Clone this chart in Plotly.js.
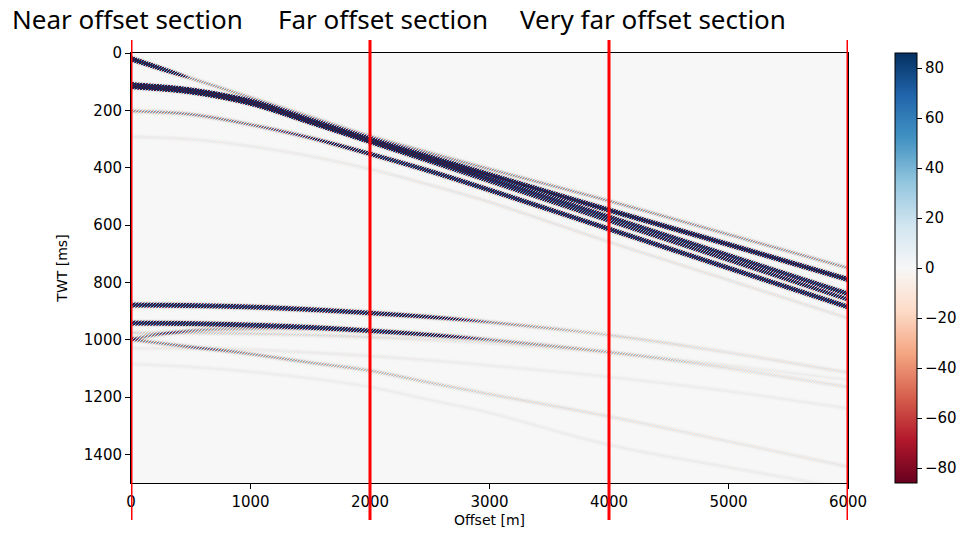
<!DOCTYPE html>
<html>
<head>
<meta charset="utf-8">
<script src="https://cdn.plot.ly/plotly-3.0.1.min.js"></script>
<style>
  html, body { margin: 0; padding: 0; background: #ffffff; }
  #chart { width: 966px; height: 535px; }
</style>
</head>
<body>
<div id="chart"></div>
<script>
// Offsets (m) where each event's two-way time and amplitude are picked
const pickOffsets = [0, 500, 1000, 1500, 2000, 2500, 3000, 4000, 5000, 6000];

// Two-way times (ms) of each event at pickOffsets
const tDirect   = [20, 88, 155, 222, 290, 348, 405, 516, 633, 750];
const tRefl1a   = [112, 131, 170, 236, 303, 364, 425, 548, 668, 790];
const tRefl1b   = [114, 133, 173, 239, 306, 372, 438, 572, 706, 840];
const tRefl1c   = [116, 135, 176, 242, 310, 378, 447, 585, 722, 860];
const tRefl2    = [202, 214, 250, 296, 352, 412, 478, 614, 750, 886];
const tRefl3    = [292, 301, 325, 360, 405, 460, 520, 659, 792, 925];
const tDeep1    = [879, 881, 886, 895, 907, 921, 939, 984, 1045, 1115];
const tDeep2    = [942, 944, 949, 957, 969, 983, 1000, 1043, 1100, 1165];
const tDeep3    = [976, 977, 979, 984, 991, 1000, 1012, 1045, 1090, 1140];
const tRising   = [997, 968, 963, 966, 975, 985, 1000, 1043, 1100, 1165];
const tDeep4    = [1030, 1031, 1035, 1045, 1057, 1072, 1090, 1130, 1180, 1240];
const tConv1    = [1000, 1025, 1050, 1080, 1108, 1150, 1190, 1268, 1355, 1443];
const tConv2    = [1085, 1095, 1112, 1135, 1165, 1210, 1255, 1367, 1445, 1520];

// Peak amplitudes of each event at pickOffsets
const aDirect   = [420, 45, 40, 40, 45, 45, 45, 45, 45, 45];
const aRefl1a   = [420, 420, 400, 380, 360, 340, 320, 300, 300, 300];
const aRefl1b   = [300, 300, 280, 260, 250, 240, 230, 220, 220, 220];
const aRefl1c   = [160, 160, 150, 150, 150, 150, 150, 150, 150, 150];
const aRefl2    = [45, 50, 55, 80, 170, 230, 250, 260, 260, 260];
const aRefl3    = [12, 12, 12, 12, 14, 16, 18, 18, 18, 18];
const aDeep1    = [230, 230, 220, 200, 180, 120, 50, 28, 18, 18];
const aDeep2    = [230, 230, 220, 200, 180, 120, 50, 25, 18, 18];
const aDeep3    = [25, 25, 25, 22, 22, 18, 14, 12, 10, 10];
const aRising   = [50, 45, 35, 12, 0, 0, 0, 0, 0, 0];
const aDeep4    = [12, 12, 12, 12, 12, 11, 10, 10, 10, 10];
const aConv1    = [50, 50, 45, 40, 35, 30, 24, 18, 15, 15];
const aConv2    = [10, 10, 10, 10, 10, 10, 10, 11, 11, 11];

// Section boundaries (m) and their labels
const sectionBounds = [0, 2000, 4000, 6000];
const sectionLabels = ['Near offset section', 'Far offset section', 'Very far offset section'];

// Axis ticks
const offsetTicks = [0, 1000, 2000, 3000, 4000, 5000, 6000];
const timeTicks = [0, 200, 400, 600, 800, 1000, 1200, 1400];
const ampTicks = [-80, -60, -40, -20, 0, 20, 40, 60, 80];

const events = [
  [tDirect, aDirect], [tRefl1a, aRefl1a], [tRefl1b, aRefl1b], [tRefl1c, aRefl1c],
  [tRefl2, aRefl2], [tRefl3, aRefl3], [tDeep1, aDeep1], [tDeep2, aDeep2],
  [tDeep3, aDeep3], [tRising, aRising], [tDeep4, aDeep4], [tConv1, aConv1], [tConv2, aConv2]
];

// Gather grid: one cell per screen pixel of the plot area (717 x 430)
const nTraces = 717, nSamples = 430;
const maxOffset = 6000, maxTime = 1500;
const dx = maxOffset / nTraces, dt = maxTime / nSamples;
const xEdges = [], tEdges = [];
for (let i = 0; i <= nTraces; i++) xEdges.push(i * dx);
for (let j = 0; j <= nSamples; j++) tEdges.push(j * dt);

// Smooth (cubic Hermite) travel-time curve through the picks
function timeAt(pk, vals, x) {
  let k = 0;
  while (k < pk.length - 2 && x > pk[k + 1]) k++;
  const x0 = pk[k], x1 = pk[k + 1], h = x1 - x0;
  const slope = (i) => {
    if (i <= 0) return (vals[1] - vals[0]) / (pk[1] - pk[0]);
    if (i >= pk.length - 1) return (vals[i] - vals[i - 1]) / (pk[i] - pk[i - 1]);
    return (vals[i + 1] - vals[i - 1]) / (pk[i + 1] - pk[i - 1]);
  };
  const u = (x - x0) / h, u2 = u * u, u3 = u2 * u;
  return (2 * u3 - 3 * u2 + 1) * vals[k] + (u3 - 2 * u2 + u) * h * slope(k) +
         (-2 * u3 + 3 * u2) * vals[k + 1] + (u3 - u2) * h * slope(k + 1);
}
function ampAt(pk, vals, x) {
  let k = 0;
  while (k < pk.length - 2 && x > pk[k + 1]) k++;
  const u = (x - pk[k]) / (pk[k + 1] - pk[k]);
  return vals[k] + u * (vals[k + 1] - vals[k]);
}

// Wavelet: Gaussian envelope with a fine three-phase oscillation that
// shifts by one phase per trace, so peaks and troughs interleave
const sigma = 7;
const phaseWeights = [1, -1, 0.3];
function wavelet(tau, i, j) {
  const env = Math.exp(-(tau / sigma) * (tau / sigma));
  return env * phaseWeights[(i + j) % 3];
}

const z = [];
for (let j = 0; j < nSamples; j++) z.push(new Array(nTraces).fill(0));
events.forEach(([tv, av]) => {
  for (let i = 0; i < nTraces; i++) {
    const x = (i + 0.5) * dx;
    const te = timeAt(pickOffsets, tv, x);
    const a = ampAt(pickOffsets, av, x);
    if (a <= 0) continue;
    const j0 = Math.max(0, Math.floor((te - 3 * sigma) / dt));
    const j1 = Math.min(nSamples - 1, Math.ceil((te + 3 * sigma) / dt));
    for (let j = j0; j <= j1; j++) z[j][i] += a * wavelet((j + 0.5) * dt - te, i, j);
  }
});

const rdbu = [
  [0.0, '#67001f'], [0.1, '#b2182b'], [0.2, '#d6604d'], [0.3, '#f4a582'],
  [0.4, '#fddbc7'], [0.5, '#f7f7f7'], [0.6, '#d1e5f0'], [0.7, '#92c5de'],
  [0.8, '#4393c3'], [0.9, '#2166ac'], [1.0, '#053061']
];

const tickFont = { family: 'DejaVu Sans', size: 15, color: '#000000' };

const trace = {
  type: 'heatmap',
  x: xEdges, y: tEdges, z: z,
  zmin: -86, zmax: 86,
  colorscale: rdbu,
  zsmooth: false,
  hoverinfo: 'skip',
  colorbar: {
    x: 1.0656, xanchor: 'left', xpad: 0,
    y: 0.5, yanchor: 'middle', len: 1, lenmode: 'fraction', ypad: 0,
    thickness: 22, thicknessmode: 'pixels',
    outlinewidth: 1, outlinecolor: '#000000',
    tickmode: 'array', tickvals: ampTicks,
    ticks: 'outside', ticklen: 5, tickwidth: 1, tickcolor: '#000000',
    tickfont: tickFont
  }
};

const shapes = sectionBounds.map(b => ({
  type: 'line', xref: 'x', yref: 'paper',
  x0: b, x1: b, y0: -0.086, y1: 1.03,
  line: { color: '#ff0000', width: 3 },
  layer: 'above'
}));

const labelX = [-0.169, 0.202, 0.540];
const annotations = sectionLabels.map((s, k) => ({
  text: s, xref: 'paper', yref: 'paper',
  x: labelX[k], y: 1.079, xanchor: 'left', yanchor: 'middle',
  showarrow: false,
  font: { family: 'Noto Sans', size: 26, color: '#000000' }
}));

const layout = {
  width: 966, height: 535,
  margin: { l: 131, r: 118, t: 53, b: 52, autoexpand: false },
  paper_bgcolor: '#ffffff',
  plot_bgcolor: '#f7f7f7',
  showlegend: false,
  xaxis: {
    range: [0, maxOffset], tickmode: 'array', tickvals: offsetTicks,
    ticks: 'outside', ticklen: 5, tickwidth: 1, tickcolor: '#000000',
    showline: true, linecolor: '#000000', linewidth: 1, mirror: true,
    showgrid: false, zeroline: false, tickfont: tickFont,
    title: { text: 'Offset [m]', font: { family: 'DejaVu Sans', size: 14, color: '#000000' }, standoff: 5 }
  },
  yaxis: {
    range: [maxTime, 0], tickmode: 'array', tickvals: timeTicks,
    ticks: 'outside', ticklen: 5, tickwidth: 1, tickcolor: '#000000',
    showline: true, linecolor: '#000000', linewidth: 1, mirror: true,
    showgrid: false, zeroline: false, tickfont: tickFont,
    title: { text: 'TWT [ms]', font: { family: 'DejaVu Sans', size: 14, color: '#000000' }, standoff: 12 }
  },
  shapes: shapes,
  annotations: annotations
};

Plotly.newPlot('chart', [trace], layout, { staticPlot: true, displayModeBar: false });
</script>
</body>
</html>
